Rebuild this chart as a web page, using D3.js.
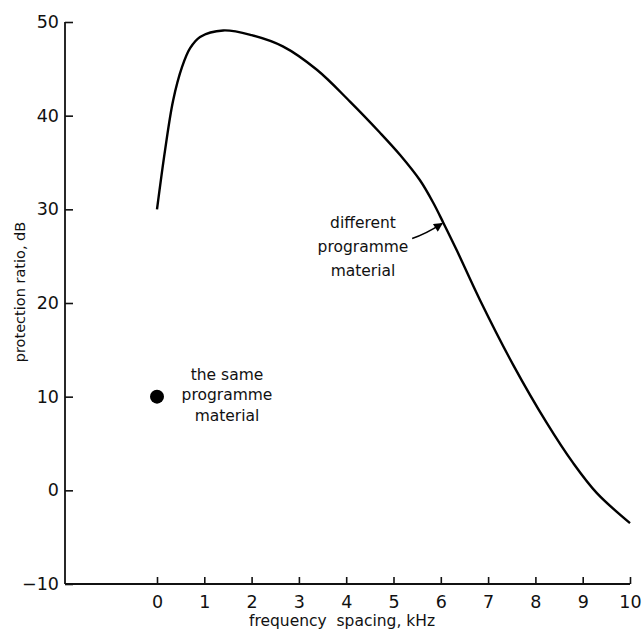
<!DOCTYPE html>
<html><head><meta charset="utf-8">
<script src="https://cdn.jsdelivr.net/npm/d3@7"></script>
<style>
html,body{margin:0;padding:0;background:#fff;}
text{font-family:"DejaVu Sans",sans-serif;fill:#111;}
</style></head>
<body><svg id="c" width="643" height="637"></svg>
<script>
// data
const freqKHz = [0, 0.17, 0.34, 0.53, 0.70, 0.91, 1.4, 2.0, 2.66, 3.38, 4.08, 4.71, 5.14, 5.56, 5.84, 6.05, 6.34, 6.83, 7.53, 8.24, 8.8, 9.3, 10];
const ratioDB = [30, 36.3, 41.6, 45.2, 47.2, 48.4, 49.1, 48.6, 47.4, 44.9, 41.5, 38.2, 35.8, 33.1, 30.7, 28.6, 25.6, 20.3, 13.4, 7.2, 2.9, -0.3, -3.5];
const samePoint = [0, 10];
const xTicks = [0,1,2,3,4,5,6,7,8,9,10];
const yTicks = [-10,0,10,20,30,40,50];
const diffLabel = ["different", "programme", "material"];
const sameLabel = ["the same", "programme", "material"];
const xTitle = "frequency\u00a0 spacing, kHz";
const yTitle = "protection ratio, dB";

const svg = d3.select("#c");
const x = d3.scaleLinear().domain([0,10]).range([157,630]);
const y = d3.scaleLinear().domain([-10,50]).range([584,22]);
const axisX = 65;

// x axis
const gx = svg.append("g").attr("transform",`translate(0,${y(-10)})`)
  .call(d3.axisBottom(x).tickValues(xTicks).tickSizeInner(-7).tickSizeOuter(0).tickPadding(12));
gx.select(".domain").remove();
gx.selectAll(".tick line").attr("stroke","#111").attr("stroke-width",1.6);
gx.selectAll(".tick text").attr("font-size",17.5).attr("fill","#111");
gx.append("line").attr("x1",axisX).attr("x2",x(10)).attr("y1",0).attr("y2",0)
  .attr("stroke","#111").attr("stroke-width",1.8);

// y axis
const gy = svg.append("g").attr("transform",`translate(${axisX},0)`)
  .call(d3.axisLeft(y).tickValues(yTicks).tickSizeInner(-8).tickSizeOuter(0).tickPadding(6)
    .tickFormat(d => d < 0 ? "\u2212" + Math.abs(d) : d));
gy.select(".domain").remove();
gy.selectAll(".tick line").attr("stroke","#111").attr("stroke-width",1.6);
gy.selectAll(".tick text").attr("font-size",17.5).attr("fill","#111");
gy.append("line").attr("x1",0).attr("x2",0).attr("y1",y(-10)).attr("y2",y(50))
  .attr("stroke","#111").attr("stroke-width",1.8);

// titles
svg.append("text").attr("x",342).attr("y",626).attr("text-anchor","middle")
  .attr("font-size",15.5).text(xTitle);
svg.append("text").attr("transform","translate(25,292) rotate(-90)").attr("text-anchor","middle")
  .attr("font-size",14.5).text(yTitle);

// curve
const pts = freqKHz.map((f,i)=>[f, ratioDB[i]]);
const line = d3.line().x(d=>x(d[0])).y(d=>y(d[1])).curve(d3.curveCatmullRom.alpha(0.5));
svg.append("path").datum(pts).attr("d",line).attr("fill","none")
  .attr("stroke","#000").attr("stroke-width",2.4).attr("stroke-linejoin","round");

// single point
svg.append("circle").attr("cx",x(samePoint[0])).attr("cy",y(samePoint[1])).attr("r",7).attr("fill","#000");

// annotations
function block(lines, cx, cy, gap){
  svg.append("g").selectAll("text").data(lines).join("text")
    .attr("x",cx).attr("y",(d,i)=>cy + i*gap).attr("text-anchor","middle")
    .attr("dominant-baseline","middle").attr("font-size",15.5).text(d=>d);
}
block(diffLabel, 363, 223, 24);
block(sameLabel, 227, 375, 20.5);

// arrow to the curve
const tip = [x(6.05), y(28.6)];
svg.append("defs").append("marker").attr("id","ah").attr("viewBox","0 0 10 10")
  .attr("refX",9).attr("refY",5).attr("markerWidth",12).attr("markerHeight",9)
  .attr("markerUnits","userSpaceOnUse").attr("orient","auto")
  .append("path").attr("d","M0,0 L10,5 L0,10 Z").attr("fill","#000");
svg.append("path")
  .attr("d",`M${tip[0]-31},${tip[1]+16} Q${tip[0]-18},${tip[1]+12} ${tip[0]-1},${tip[1]+1}`)
  .attr("fill","none").attr("stroke","#000").attr("stroke-width",1.6).attr("marker-end","url(#ah)");
</script></body></html>
